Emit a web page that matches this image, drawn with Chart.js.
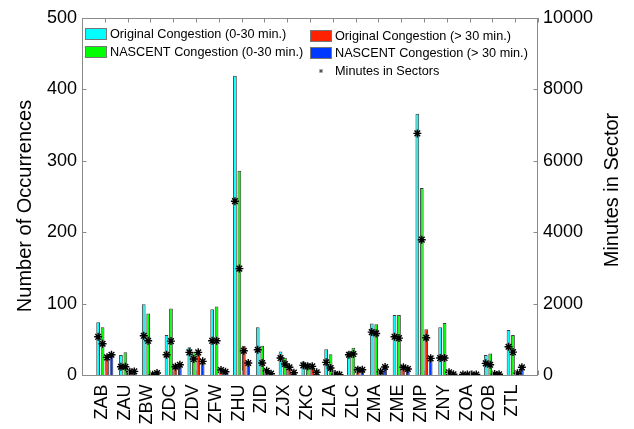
<!DOCTYPE html>
<html>
<head>
<meta charset="utf-8">
<script src="https://cdn.jsdelivr.net/npm/chart.js@4"></script>
<style>
html,body{margin:0;padding:0;background:#fff;}
#wrap{width:634px;height:429px;}
</style>
</head>
<body>
<div id="wrap"><canvas id="c" width="634" height="429"></canvas></div>
<script>
// ---- data ----
const categories = ['ZAB','ZAU','ZBW','ZDC','ZDV','ZFW','ZHU','ZID','ZJX','ZKC','ZLA','ZLC','ZMA','ZME','ZMP','ZNY','ZOA','ZOB','ZTL'];
const origShort = [74, 28, 99, 56, 39, 92, 419, 67, 33, 19, 36, 33, 72, 84, 366, 67, 0, 28, 63];
const nascShort = [67, 32, 86, 93, 32, 96, 286, 41, 24, 16, 29, 38, 71, 84, 262, 73, 0, 30, 56];
const origLong  = [26, 3, 1, 13, 31, 5, 41, 6, 13, 13, 3, 11, 6, 11, 64, 1, 0, 2, 1];
const nascLong  = [30, 4, 1, 15, 21, 3, 19, 4, 6, 3, 1, 9, 10, 9, 27, 1, 0, 1, 11];
const minOrigShort = [1070, 232, 1098, 567, 634, 958, 4869, 707, 475, 270, 354, 567, 1201, 1070, 6768, 475, 15, 326, 791];
const minNascShort = [875, 232, 958, 950, 447, 958, 2980, 335, 307, 242, 195, 587, 1164, 1034, 3790, 475, 15, 288, 642];
const minOrigLong  = [494, 92, 10, 232, 634, 140, 680, 120, 215, 242, 28, 148, 92, 215, 1043, 75, 15, 28, 47];
const minNascLong  = [567, 101, 56, 288, 383, 92, 335, 37, 65, 75, 10, 148, 223, 168, 466, 19, 15, 19, 215];
const leftTicks = [0, 100, 200, 300, 400, 500];
const rightTicks = [0, 2000, 4000, 6000, 8000, 10000];
const seriesLabels = ['Original Congestion (0-30 min.)','NASCENT Congestion (0-30 min.)','Original Congestion (> 30 min.)','NASCENT Congestion (> 30 min.)'];
const starLabel = 'Minutes in Sectors';
const leftTitle = 'Number of Occurrences';
const rightTitle = 'Minutes in Sector';

// ---- style ----
const COLORS = ['#00ffff', '#00ff00', '#ff2200', '#0038ff'];
const CAT_PCT = 0.78, BAR_PCT = 0.84, N_BARS = 4;
const FONT = "'Liberation Sans', Arial, Helvetica, sans-serif";

function barSet(k, values) {
  return {
    type: 'bar', label: seriesLabels[k],
    data: values.map((v, i) => ({x: i + 1, y: v})),
    backgroundColor: COLORS[k], borderColor: '#3c3c3c', borderWidth: 1,
    categoryPercentage: CAT_PCT, barPercentage: BAR_PCT,
    yAxisID: 'y', order: 2
  };
}
function starSet(k, values) {
  const off = (k - (N_BARS - 1) / 2) / N_BARS * CAT_PCT;
  return {
    type: 'line', label: starLabel,
    data: values.map((v, i) => ({x: i + 1 + off, y: v})),
    showLine: false, pointStyle: 'star', pointRadius: 4, pointHoverRadius: 4,
    borderColor: '#000', backgroundColor: '#000', pointBorderWidth: 1.4,
    yAxisID: 'y2', order: 1
  };
}

const framePlugin = {
  id: 'frame',
  afterDraw(chart) {
    const {ctx, chartArea: a, scales} = chart;
    ctx.save();
    ctx.strokeStyle = '#8a8a8a';
    ctx.lineWidth = 1;
    ctx.strokeRect(a.left + 0.5, a.top + 0.5, a.right - a.left - 1, a.bottom - a.top);
    ctx.beginPath();
    const TL = 4.5;
    [0].concat(categories.map((c, i) => i + 1), [20]).forEach(v => {
      const px = Math.round(scales.x.getPixelForValue(v)) + 0.5;
      ctx.moveTo(px, a.bottom); ctx.lineTo(px, a.bottom - TL);
      ctx.moveTo(px, a.top); ctx.lineTo(px, a.top + TL);
    });
    scales.y.ticks.forEach(t => {
      const py = Math.round(scales.y.getPixelForValue(t.value)) + 0.5;
      ctx.moveTo(a.left, py); ctx.lineTo(a.left + TL, py);
    });
    scales.y2.ticks.forEach(t => {
      const py = Math.round(scales.y2.getPixelForValue(t.value)) + 0.5;
      ctx.moveTo(a.right, py); ctx.lineTo(a.right - TL, py);
    });
    ctx.stroke();

    // axis titles
    ctx.fillStyle = '#000';
    ctx.font = '20px ' + FONT;
    ctx.textAlign = 'center';
    ctx.textBaseline = 'middle';
    ctx.save();
    ctx.translate(25, 206);
    ctx.rotate(-Math.PI / 2);
    ctx.fillText(leftTitle, 0, 0);
    ctx.restore();
    ctx.save();
    ctx.translate(612.5, 190);
    ctx.rotate(-Math.PI / 2);
    ctx.fillText(rightTitle, 0, 0);
    ctx.restore();

    // legend
    ctx.font = '12.7px ' + FONT;
    ctx.textBaseline = 'middle';
    ctx.textAlign = 'left';
    const items = [
      {k: 0, sx: 85, sy: 28}, {k: 1, sx: 85, sy: 46},
      {k: 2, sx: 310, sy: 30}, {k: 3, sx: 310, sy: 47}
    ];
    items.forEach(it => {
      ctx.fillStyle = COLORS[it.k];
      ctx.fillRect(it.sx, it.sy, 22, 12);
      ctx.strokeStyle = '#777';
      ctx.strokeRect(it.sx + 0.5, it.sy + 0.5, 21, 11);
      ctx.fillStyle = '#000';
      ctx.fillText(seriesLabels[it.k], it.sx + 25, it.sy + 6.5);
    });
    const cx = 321, cy = 71, r = 2;
    ctx.strokeStyle = '#555';
    ctx.lineWidth = 1;
    ctx.beginPath();
    ctx.moveTo(cx - r, cy); ctx.lineTo(cx + r, cy);
    ctx.moveTo(cx, cy - r); ctx.lineTo(cx, cy + r);
    ctx.moveTo(cx - r * 0.7, cy - r * 0.7); ctx.lineTo(cx + r * 0.7, cy + r * 0.7);
    ctx.moveTo(cx - r * 0.7, cy + r * 0.7); ctx.lineTo(cx + r * 0.7, cy - r * 0.7);
    ctx.stroke();
    ctx.fillStyle = '#000';
    ctx.fillText(starLabel, 335, cy);
    ctx.restore();
  }
};

new Chart(document.getElementById('c'), {
  type: 'bar',
  data: {
    datasets: [
      barSet(0, origShort), barSet(1, nascShort), barSet(2, origLong), barSet(3, nascLong),
      starSet(0, minOrigShort), starSet(1, minNascShort), starSet(2, minOrigLong), starSet(3, minNascLong)
    ]
  },
  options: {
    responsive: false,
    animation: false,
    layout: {padding: {top: 18, left: 0, right: 0, bottom: 0}},
    plugins: {legend: {display: false}, tooltip: {enabled: false}},
    scales: {
      x: {
        type: 'linear', min: 0, max: 20, offset: false,
        grid: {display: false, drawTicks: false, offset: false},
        border: {display: false},
        afterBuildTicks: s => { s.ticks = categories.map((c, i) => ({value: i + 1})); },
        ticks: {
          autoSkip: false, minRotation: 90, maxRotation: 90, padding: 9.5, labelOffset: -3,
          color: '#000', font: {size: 18, family: FONT},
          callback: v => categories[v - 1]
        },
        afterFit: s => { s.height = 54; }
      },
      y: {
        position: 'left', min: 0, max: 500,
        grid: {display: false, drawTicks: false},
        border: {display: false},
        afterBuildTicks: s => { s.ticks = leftTicks.map(v => ({value: v})); },
        ticks: {padding: 5, color: '#000', font: {size: 18, family: FONT}, callback: v => String(v)},
        afterFit: s => { s.width = 82; }
      },
      y2: {
        position: 'right', min: 0, max: 10000,
        grid: {display: false, drawTicks: false},
        border: {display: false},
        afterBuildTicks: s => { s.ticks = rightTicks.map(v => ({value: v})); },
        ticks: {padding: 5, color: '#000', font: {size: 18, family: FONT}, callback: v => String(v)},
        afterFit: s => { s.width = 96; }
      }
    }
  },
  plugins: [framePlugin]
});
</script>
</body>
</html>
